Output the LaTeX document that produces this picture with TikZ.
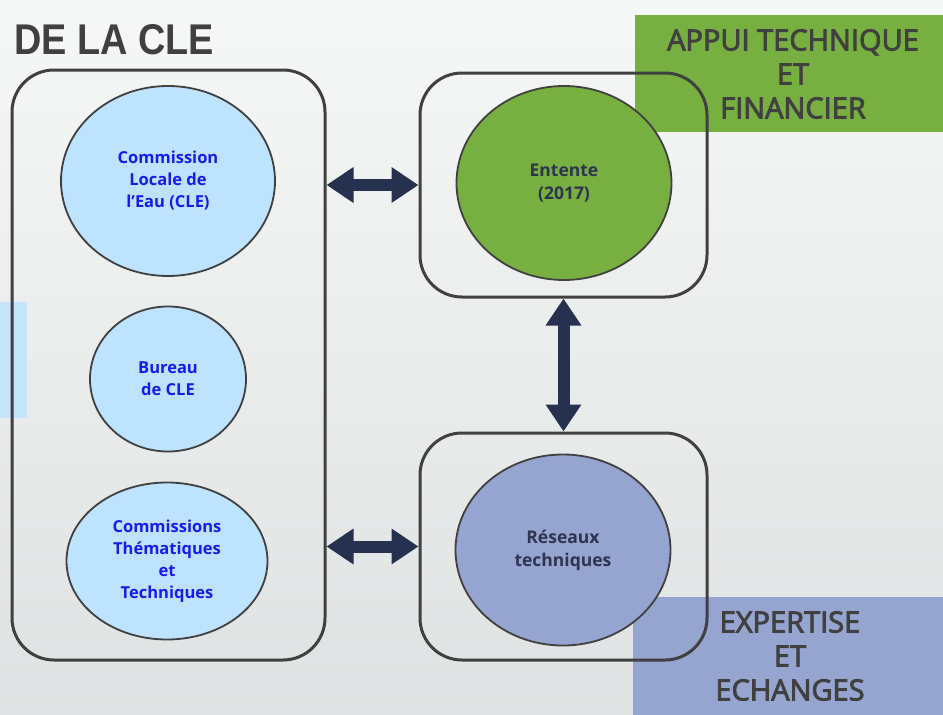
\documentclass[tikz,border=0pt]{standalone}
\usepackage{fontspec}
\setmainfont{Open Sans}
\newfontfamily\arialf{Liberation Sans}
\newfontfamily\medf{Open Sans}[RawFeature={embolden=3}]
\usetikzlibrary{shapes.geometric,arrows.meta}
\definecolor{bgtop}{HTML}{F6F7F7}
\definecolor{bgbot}{HTML}{DFE2E2}
\definecolor{edge}{HTML}{404040}
\definecolor{lblue}{HTML}{BEE3FF}
\definecolor{strip}{HTML}{C5E5FB}
\definecolor{green}{HTML}{77B041}
\definecolor{lav}{HTML}{96A4D0}
\definecolor{navy}{HTML}{26304F}
\definecolor{bluetxt}{HTML}{1A1AF0}
\definecolor{darktxt}{HTML}{2E3450}
\definecolor{graytxt}{HTML}{404040}
\tikzset{
  box/.style={draw=edge, line width=3pt, rounded corners=42pt, inner sep=0pt},
  oval/.style={ellipse, draw=edge, line width=1.8pt, inner sep=0pt, align=center},
  bluelbl/.style={text=bluetxt, font=\bfseries\fontsize{16.5}{22}\selectfont},
  darklbl/.style={text=darktxt, font=\bfseries\fontsize{17.5}{23}\selectfont},
  corner/.style={inner sep=0pt, align=center, text=graytxt, font=\medf\fontsize{29}{34}\selectfont},
  biarrow/.style={draw=navy, line width=12pt, {Triangle[width=34pt,length=27pt]}-{Triangle[width=34pt,length=27pt]}}
}
\begin{document}
\begin{tikzpicture}[x=1pt,y=-1pt]
\useasboundingbox (0,0) rectangle (943,715);
\shade[top color=bgtop, bottom color=bgbot] (0,0) rectangle (943,715);
% side strips
\fill[strip] (0,302) rectangle (27,418);
\fill[green] (635,15) rectangle (943,132);
\fill[lav] (633,597) rectangle (943,715);
% title
\node[anchor=west, inner sep=0pt, text=graytxt, font=\arialf\bfseries\fontsize{43}{43}\selectfont, xscale=0.88] (title) at (14,40) {DE LA CLE};
% ellipses
\node[oval, fill=lblue, minimum width=214pt, minimum height=190pt, bluelbl] (cle) at (168,181) {Commission\\Locale de\\l’Eau (CLE)};
\node[oval, fill=lblue, minimum width=156pt, minimum height=145pt, bluelbl] (bur) at (168,379) {Bureau\\de CLE};
\node[oval, fill=lblue, minimum width=201pt, minimum height=157pt, bluelbl] (com) at (167,561) {Commissions\\Thématiques\\et\\Techniques};
\node[oval, fill=green, minimum width=215pt, minimum height=194pt, darklbl] (ent) at (564,183) {Entente\\(2017)};
\node[oval, fill=lav, minimum width=215pt, minimum height=191pt, darklbl] (res) at (563,550) {Réseaux\\techniques};
% boxes
\node[box, minimum width=313pt, minimum height=590pt] (L) at (168.5,365) {};
\node[box, minimum width=287pt, minimum height=224pt] (TR) at (563.5,185) {};
\node[box, minimum width=287pt, minimum height=227pt] (BR) at (563.5,546.5) {};
% corner labels
\node[corner] (appui) at (793,74) {APPUI TECHNIQUE\\ET\\FINANCIER};
\node[corner] (exp) at (790,656) {EXPERTISE\\ET\\ECHANGES};
% arrows
\draw[biarrow] (L.east |- TR.west) -- (TR.west);
\draw[biarrow] (L.east |- BR.west) -- (BR.west);
\draw[biarrow] (TR.south) -- (BR.north);
\end{tikzpicture}
\end{document}
